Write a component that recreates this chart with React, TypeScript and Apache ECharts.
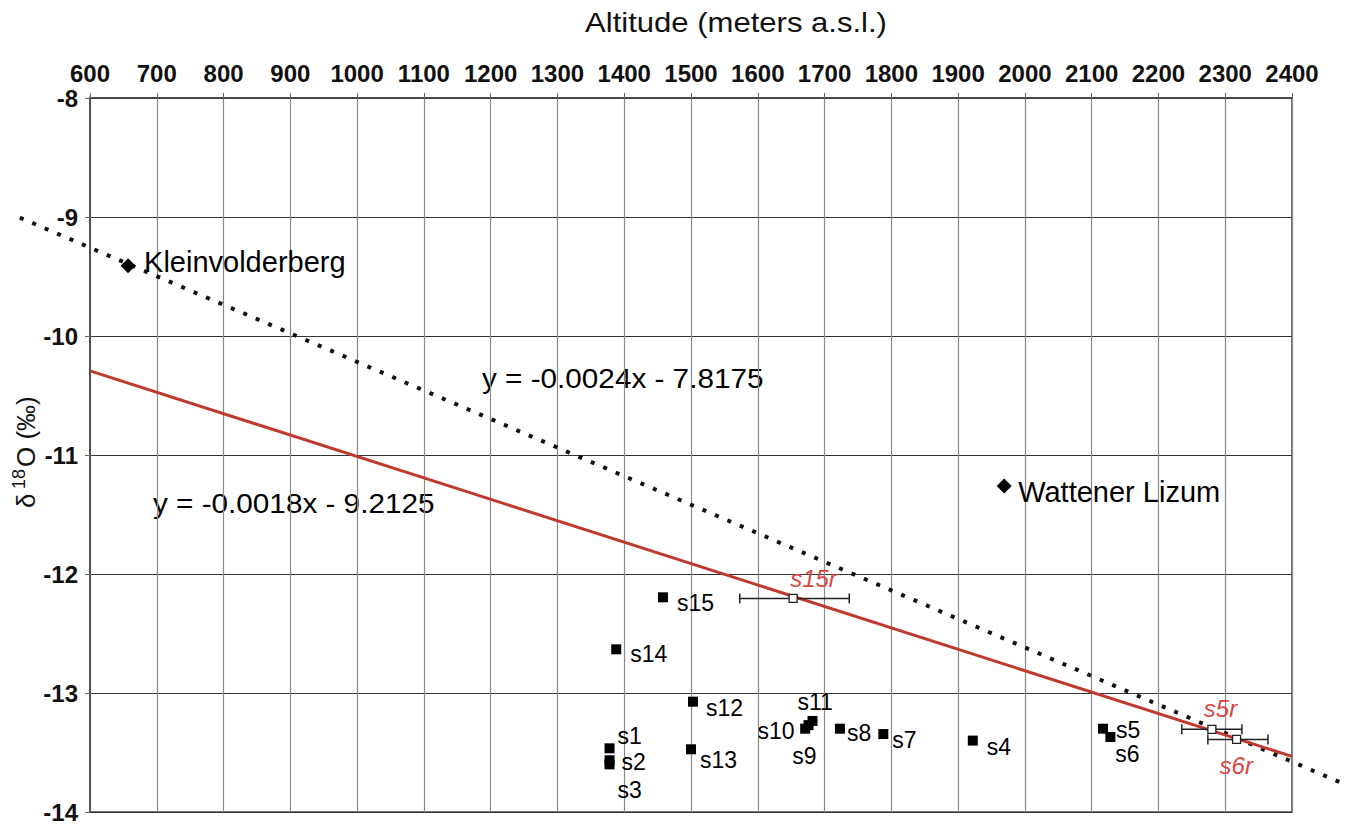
import React, { useEffect, useRef } from 'react';
import * as echarts from 'echarts';

// ---- data ----
const sampleNames = ['s1', 's2', 's3', 's4', 's5', 's6', 's7', 's8', 's9', 's10', 's11', 's12', 's13', 's14', 's15'];
const sampleAltitude = [1378, 1378, 1378, 1922, 2117, 2128, 1788, 1723, 1671, 1676, 1682, 1503, 1500, 1388, 1458];
const sampleD18O = [-13.465, -13.565, -13.6, -13.4, -13.3, -13.37, -13.345, -13.3, -13.3, -13.27, -13.235, -13.073, -13.473, -12.633, -12.196];

const refNames = ['Kleinvolderberg', 'Wattener Lizum'];
const refAltitude = [657, 1969];
const refD18O = [-9.41, -11.26];

const corrNames = ['s15r', 's5r', 's6r'];
const corrAltitude = [1653, 2280, 2317];
const corrD18O = [-12.205, -13.305, -13.39];
const corrAltMin = [1573, 2235, 2274];
const corrAltMax = [1737, 2325, 2364];

const fitDottedLine = [[495, -9.0055], [2472, -13.7503]];
const fitRedLine = [[600, -10.2925], [2400, -13.5325]];

const eqDotted = 'y = -0.0024x - 7.8175';
const eqRed = 'y = -0.0018x - 9.2125';
const xTitle = 'Altitude (meters a.s.l.)';
const yTitleParts = ['δ', '18', 'O (‰)'];

// ---- label styling (pixel offsets of labels from their marks) ----
const sampleLabelStyle: Record<string, { dx: number; dy: number; align?: string }> = {
  s1: { dx: 8, dy: -12 },
  s2: { dx: 12, dy: 2 },
  s3: { dx: 8, dy: 26 },
  s4: { dx: 14, dy: 6 },
  s5: { dx: 13, dy: 1 },
  s6: { dx: 5, dy: 17 },
  s7: { dx: 9, dy: 6 },
  s8: { dx: 7, dy: 4 },
  s9: { dx: -13, dy: 27 },
  s10: { dx: -14, dy: 6, align: 'right' },
  s11: { dx: -15, dy: -19 },
  s12: { dx: 13, dy: 6 },
  s13: { dx: 9, dy: 11 },
  s14: { dx: 14, dy: 5 },
  s15: { dx: 14, dy: 6 },
};
const refLabelStyle: Record<string, { dx: number; dy: number }> = {
  Kleinvolderberg: { dx: 16, dy: -4 },
  'Wattener Lizum': { dx: 14, dy: 6 },
};
const corrLabelStyle: Record<string, { dx: number; dy: number }> = {
  s15r: { dx: -3, dy: -20 },
  s5r: { dx: -8, dy: -21 },
  s6r: { dx: -17, dy: 26 },
};

const FONT = 'Liberation Sans, Arial, Helvetica, sans-serif';

export default function App() {
  const ref = useRef<HTMLDivElement>(null);
  useEffect(() => {
    if (!ref.current) return;
    const chart = echarts.init(ref.current, undefined, { renderer: 'svg' });

    const sampleData = sampleNames.map((n, i) => {
      const s = sampleLabelStyle[n];
      return {
        name: n,
        value: [sampleAltitude[i], sampleD18O[i]],
        label: {
          show: true,
          position: 'inside',
          align: s.align || 'left',
          verticalAlign: 'middle',
          offset: [s.dx, s.dy],
          formatter: n,
          fontSize: 23,
          lineHeight: 20,
          fontFamily: FONT,
          color: '#000',
        },
      };
    });

    const refData = refNames.map((n, i) => {
      const s = refLabelStyle[n];
      return {
        name: n,
        value: [refAltitude[i], refD18O[i]],
        label: {
          show: true,
          position: 'inside',
          align: 'left',
          verticalAlign: 'middle',
          offset: [s.dx, s.dy],
          formatter: n,
          fontSize: 29,
          fontFamily: FONT,
          color: '#000',
        },
      };
    });

    const corrData = corrNames.map((n, i) => [corrAltitude[i], corrD18O[i], corrAltMin[i], corrAltMax[i]]);
    const dottedData = [[fitDottedLine[0][0], fitDottedLine[0][1], fitDottedLine[1][0], fitDottedLine[1][1]]];

    const option: any = {
      animation: false,
      backgroundColor: '#fff',
      grid: {
        left: 90, top: 98, width: 1202, height: 714,
        outerBoundsMode: 'none', containLabel: false,
        show: true, borderColor: '#444', borderWidth: 1.5,
      },
      xAxis: {
        type: 'value',
        position: 'top',
        min: 600,
        max: 2400,
        interval: 100,
        axisLine: { show: true, lineStyle: { color: '#444', width: 1.5 } },
        axisTick: { show: true, length: 5, inside: false, lineStyle: { color: '#666' } },
        axisLabel: { fontSize: 24, fontWeight: 'bold', color: '#111', fontFamily: FONT, margin: 13, formatter: (v: number) => String(v) },
        splitLine: { show: true, lineStyle: { color: '#8a8a8a', width: 1.2 } },
      },
      yAxis: {
        type: 'value',
        min: -14,
        max: -8,
        interval: 1,
        axisLine: { show: true, lineStyle: { color: '#444', width: 1.5 } },
        axisTick: { show: true, length: 5, lineStyle: { color: '#666' } },
        axisLabel: { fontSize: 24, fontWeight: 'bold', color: '#111', fontFamily: FONT, margin: 12, formatter: (v: number) => String(v) },
        splitLine: { show: true, lineStyle: { color: '#333', width: 1.2 } },
      },
      graphic: [
        {
          type: 'text',
          x: 736,
          y: 23,
          scaleX: 1.15,
          style: { text: xTitle, fontSize: 27, fontFamily: FONT, fill: '#111', align: 'center', verticalAlign: 'middle' },
        },
        {
          type: 'group',
          x: 26,
          y: 452,
          rotation: Math.PI / 2,
          children: [
            { type: 'text', x: -56, y: 0, style: { text: yTitleParts[0], fontSize: 26, fontFamily: FONT, fill: '#111', align: 'left', verticalAlign: 'middle' } },
            { type: 'text', x: -37, y: -7, style: { text: yTitleParts[1], fontSize: 18, fontFamily: FONT, fill: '#111', align: 'left', verticalAlign: 'middle' } },
            { type: 'text', x: -15, y: 0, style: { text: yTitleParts[2], fontSize: 26, fontFamily: FONT, fill: '#111', align: 'left', verticalAlign: 'middle' } },
          ],
        },
        {
          type: 'text',
          x: 482,
          y: 378,
          scaleX: 1.1,
          style: { text: eqDotted, fontSize: 27, fontFamily: FONT, fill: '#000', align: 'left', verticalAlign: 'middle' },
        },
        {
          type: 'text',
          x: 153,
          y: 503,
          scaleX: 1.1,
          style: { text: eqRed, fontSize: 27, fontFamily: FONT, fill: '#000', align: 'left', verticalAlign: 'middle' },
        },
      ],
      series: [
        {
          type: 'custom',
          data: dottedData,
          clip: false,
          z: 3,
          renderItem: (params: any, api: any) => {
            const a = api.coord([api.value(0), api.value(1)]);
            const b = api.coord([api.value(2), api.value(3)]);
            return {
              type: 'line',
              shape: { x1: a[0], y1: a[1], x2: b[0], y2: b[1] },
              style: { stroke: '#111', lineWidth: 4, lineDash: [4, 9.5], fill: null },
            };
          },
        },
        {
          type: 'line',
          data: fitRedLine,
          symbol: 'none',
          lineStyle: { color: '#c0392f', width: 3 },
          z: 4,
        },
        {
          type: 'custom',
          data: corrData,
          z: 5,
          renderItem: (params: any, api: any) => {
            const c = api.coord([api.value(0), api.value(1)]);
            const l = api.coord([api.value(2), api.value(1)]);
            const r = api.coord([api.value(3), api.value(1)]);
            const cap = 5;
            const name = corrNames[params.dataIndex];
            const ls = corrLabelStyle[name];
            const st = { stroke: '#222', lineWidth: 1.5 };
            return {
              type: 'group',
              children: [
                { type: 'line', shape: { x1: l[0], y1: l[1], x2: r[0], y2: r[1] }, style: st },
                { type: 'line', shape: { x1: l[0], y1: l[1] - cap, x2: l[0], y2: l[1] + cap }, style: st },
                { type: 'line', shape: { x1: r[0], y1: r[1] - cap, x2: r[0], y2: r[1] + cap }, style: st },
                { type: 'rect', shape: { x: c[0] - 4, y: c[1] - 4, width: 8, height: 8 }, style: { fill: '#fff', stroke: '#222', lineWidth: 1.3 } },
                {
                  type: 'text',
                  x: c[0] + ls.dx,
                  y: c[1] + ls.dy,
                  style: { text: name, fontSize: 24, fontStyle: 'italic', fontFamily: FONT, fill: '#d9483f', align: 'left', verticalAlign: 'middle' },
                },
              ],
            };
          },
        },
        {
          type: 'scatter',
          data: sampleData,
          symbol: 'rect',
          symbolSize: 10,
          itemStyle: { color: '#000', opacity: 1 },
          z: 6,
        },
        {
          type: 'scatter',
          data: refData,
          symbol: 'diamond',
          symbolSize: 15,
          itemStyle: { color: '#000', opacity: 1 },
          z: 6,
        },
      ],
    };
    chart.setOption(option);
    return () => chart.dispose();
  }, []);
  return <div ref={ref} style={{ position: 'fixed', left: 0, top: 0, width: 1347, height: 830, background: '#fff' }} />;
}
